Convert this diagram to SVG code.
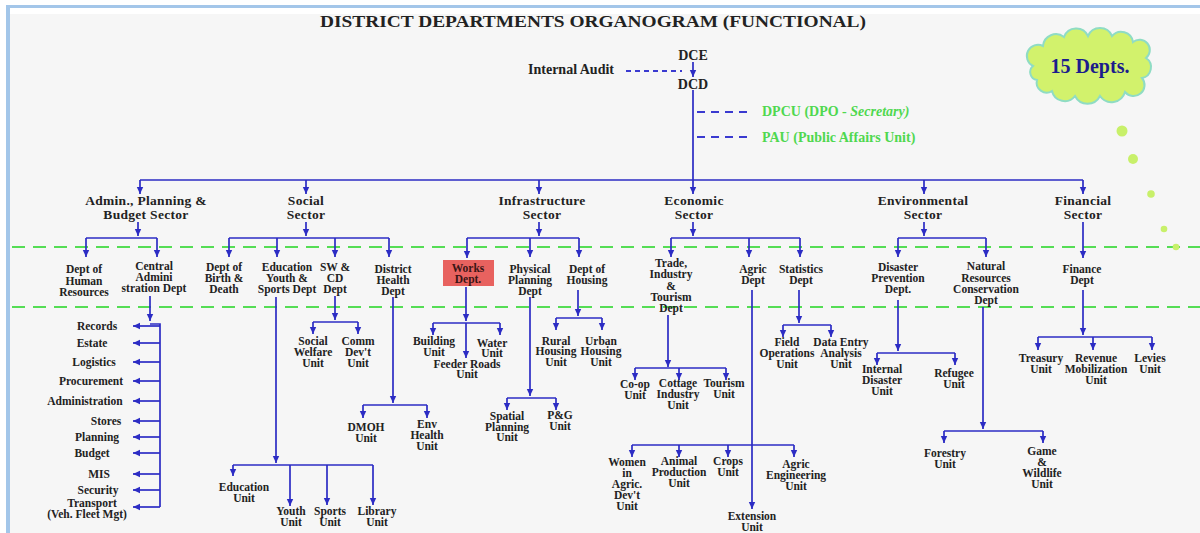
<svg xmlns="http://www.w3.org/2000/svg" width="1200" height="533" viewBox="0 0 1200 533">
<style>
.t{font-family:"Liberation Serif","Times New Roman",serif;font-weight:bold;fill:#222;font-size:11.5px;text-anchor:middle}
.s{font-size:13.5px;letter-spacing:0.3px}
.h{font-size:14px}
.g{fill:#4fd84f;font-size:14px;text-anchor:start}
.l{fill:none;stroke:#2c2cc4;stroke-width:1.7}
.a{marker-end:url(#ah)}
.gd{fill:none;stroke:#55dd55;stroke-width:2;stroke-dasharray:13 8}
.bd{fill:none;stroke:#3a3ad0;stroke-width:1.8}
.dot{fill:#c8f06a}
</style>
<defs>
<marker id="ah" markerWidth="8" markerHeight="8" refX="7" refY="4" orient="auto" markerUnits="userSpaceOnUse"><path d="M0,0.8 L7,4 L0,7.2 z" fill="#2c2cc4"/></marker>
</defs>
<rect x="0" y="0" width="1200" height="533" fill="#ffffff"/>
<rect x="10" y="14" width="1190" height="519" fill="#f6f6f6"/>
<line x1="8" y1="5" x2="8" y2="533" stroke="#a3c6e9" stroke-width="4"/>
<line x1="6" y1="6.5" x2="1200" y2="6.5" stroke="#a3c6e9" stroke-width="3"/>
<path class="gd" d="M12,247 H1200 M12,307 H1200"/>

<g id="title"><text class="t" x="593" y="27" style="font-size:17.5px" textLength="546" lengthAdjust="spacingAndGlyphs">DISTRICT DEPARTMENTS ORGANOGRAM (FUNCTIONAL)</text></g>

<g id="cloud">
<path d="M1033,66 A11,11 0 0 1 1043,46 A13,13 0 0 1 1064,37 A13,13 0 0 1 1088,36 A13,13 0 0 1 1112,36 A12,12 0 0 1 1133,42 A10,10 0 0 1 1146,58 A11,11 0 0 1 1142,78 A11,11 0 0 1 1125,92 A14,14 0 0 1 1100,96 A14,14 0 0 1 1075,96 A13,13 0 0 1 1052,91 A10,10 0 0 1 1037,80 A8,8 0 0 1 1033,66 Z" fill="#d2f26c" stroke="#8fdcc4" stroke-width="2"/>
<text class="t" x="1090" y="73" style="font-size:20px;fill:#1c1c8c">15 Depts.</text>
<circle class="dot" cx="1122" cy="131" r="5.5"/>
<circle class="dot" cx="1133" cy="159" r="5"/>
<circle class="dot" cx="1151" cy="194" r="3.8"/>
<circle class="dot" cx="1164" cy="229" r="3.3"/>
<circle class="dot" cx="1176" cy="247" r="3.3"/>
</g>

<g id="connectors">
<path class="l a" d="M693,62 V77"/>
<path class="bd" d="M626,71 H682" stroke-dasharray="5 4"/>
<path class="l" d="M693,90 V180 M140,180 H1083"/>
<path class="bd" d="M697,112 H752 M697,137 H752" stroke-dasharray="8 6"/>
<path class="l a" d="M140,180 V194"/><path class="l a" d="M306,180 V194"/><path class="l a" d="M539,180 V194"/>
<path class="l a" d="M693,180 V194"/><path class="l a" d="M924,180 V194"/><path class="l a" d="M1083,180 V194"/>

<path class="l a" d="M138,222 V236"/><path class="l" d="M86,238 H157"/>
<path class="l a" d="M86,238 V257"/><path class="l a" d="M157,238 V257"/>
<path class="l a" d="M306,222 V236"/><path class="l" d="M229,238 H389"/>
<path class="l a" d="M229,238 V257"/><path class="l a" d="M277,238 V257"/><path class="l a" d="M335,238 V257"/><path class="l a" d="M389,238 V257"/>
<path class="l a" d="M539,222 V236"/><path class="l" d="M467,238 H579"/>
<path class="l a" d="M467,238 V258"/><path class="l a" d="M530,238 V257"/><path class="l a" d="M579,238 V257"/>
<path class="l a" d="M693,222 V236"/><path class="l" d="M671,238 H800"/>
<path class="l a" d="M671,238 V257"/><path class="l a" d="M749,238 V257"/><path class="l a" d="M800,238 V257"/>
<path class="l a" d="M924,222 V236"/><path class="l" d="M898,238 H986"/>
<path class="l a" d="M898,238 V257"/><path class="l a" d="M986,238 V257"/>
<path class="l a" d="M1083,222 V258"/>

<path class="l a" d="M150,296 V321"/><path class="l" d="M150,324 H160 V507"/>
<path class="l a" d="M160,326 H133"/><path class="l a" d="M160,343 H133"/><path class="l a" d="M160,362 H133"/>
<path class="l a" d="M160,381 H133"/><path class="l a" d="M160,401 H133"/><path class="l a" d="M160,421 H133"/>
<path class="l a" d="M160,437 H133"/><path class="l a" d="M160,453 H133"/><path class="l a" d="M160,474 H133"/>
<path class="l a" d="M160,490 H133"/><path class="l a" d="M160,507 H133"/>

<path class="l a" d="M276,297 V463"/><path class="l" d="M233,465 H373"/>
<path class="l a" d="M233,465 V476"/><path class="l a" d="M290,465 V506"/><path class="l a" d="M327,465 V505"/><path class="l a" d="M373,465 V505"/>
<path class="l a" d="M335,296 V320"/><path class="l" d="M313,322 H358"/>
<path class="l a" d="M313,322 V334"/><path class="l a" d="M358,322 V334"/>
<path class="l a" d="M393,297 V403"/><path class="l" d="M363,405 H427"/>
<path class="l a" d="M363,405 V418"/><path class="l a" d="M427,405 V418"/>

<path class="l a" d="M466,287 V321"/><path class="l" d="M433,323 H500"/>
<path class="l a" d="M433,323 V335"/><path class="l a" d="M500,323 V335"/><path class="l a" d="M466,323 V358"/>
<path class="l a" d="M530,297 V396"/><path class="l" d="M507,398 H556"/>
<path class="l a" d="M507,398 V410"/><path class="l a" d="M556,398 V410"/>
<path class="l a" d="M578,290 V316"/><path class="l" d="M556,318 H602"/>
<path class="l a" d="M556,318 V330"/><path class="l a" d="M602,318 V330"/>

<path class="l a" d="M668,315 V367"/><path class="l" d="M635,368 H726"/>
<path class="l a" d="M635,368 V380"/><path class="l a" d="M679,368 V380"/><path class="l a" d="M726,368 V380"/>
<path class="l a" d="M752,290 V509"/><path class="l" d="M632,445 H794"/>
<path class="l a" d="M632,445 V457"/><path class="l a" d="M679,445 V457"/><path class="l a" d="M728,445 V457"/><path class="l a" d="M794,445 V457"/>
<path class="l a" d="M799,290 V323"/><path class="l" d="M783,325 H831"/>
<path class="l a" d="M783,325 V337"/><path class="l a" d="M831,325 V337"/>

<path class="l a" d="M898,300 V351"/><path class="l" d="M877,353 H955"/>
<path class="l a" d="M877,353 V365"/><path class="l a" d="M955,353 V365"/>
<path class="l a" d="M983,307 V429"/><path class="l" d="M944,431 H1043"/>
<path class="l a" d="M944,431 V443"/><path class="l a" d="M1043,431 V443"/>
<path class="l a" d="M1083,290 V335"/><path class="l" d="M1038,337 H1152"/>
<path class="l a" d="M1038,337 V350"/><path class="l a" d="M1093,337 V350"/><path class="l a" d="M1152,337 V350"/>
</g>

<g id="dce"><text class="t h" x="693" y="60">DCE</text></g>
<g id="dcd"><text class="t h" x="693" y="89">DCD</text></g>
<g id="audit"><text class="t h" x="571" y="74">Internal Audit</text></g>
<g id="dpcu"><text class="t g" x="762" y="116">DPCU (DPO - <tspan font-style="italic">Secretary)</tspan></text></g>
<g id="pau"><text class="t g" x="762" y="142">PAU (Public Affairs Unit)</text></g>

<g id="sec-admin"><text class="t s" x="146" y="205">Admin.,  Planning &amp;</text><text class="t s" x="146" y="218.5">Budget Sector</text></g>
<g id="sec-social"><text class="t s" x="306" y="205">Social</text><text class="t s" x="306" y="218.5">Sector</text></g>
<g id="sec-infra"><text class="t s" x="542" y="205">Infrastructure</text><text class="t s" x="542" y="218.5">Sector</text></g>
<g id="sec-econ"><text class="t s" x="694" y="205">Economic</text><text class="t s" x="694" y="218.5">Sector</text></g>
<g id="sec-env"><text class="t s" x="923" y="205">Environmental</text><text class="t s" x="923" y="218.5">Sector</text></g>
<g id="sec-fin"><text class="t s" x="1083" y="205">Financial</text><text class="t s" x="1083" y="218.5">Sector</text></g>

<g id="d-hr"><text class="t" x="84" y="273">Dept of</text><text class="t" x="84" y="285">Human</text><text class="t" x="84" y="296">Resources</text></g>
<g id="d-central"><text class="t" x="154" y="270">Central</text><text class="t" x="154" y="281">Admini</text><text class="t" x="154" y="292">stration Dept</text></g>
<g id="d-birth"><text class="t" x="224" y="271">Dept of</text><text class="t" x="224" y="282">Birth &amp;</text><text class="t" x="224" y="293">Death</text></g>
<g id="d-edu"><text class="t" x="287" y="271">Education</text><text class="t" x="287" y="282">Youth &amp;</text><text class="t" x="287" y="293">Sports Dept</text></g>
<g id="d-sw"><text class="t" x="335" y="271">SW &amp;</text><text class="t" x="335" y="282">CD</text><text class="t" x="335" y="293">Dept</text></g>
<g id="d-health"><text class="t" x="393" y="273">District</text><text class="t" x="393" y="284">Health</text><text class="t" x="393" y="295">Dept</text></g>
<g id="d-works"><rect x="443" y="260" width="51" height="26" fill="#e8625f"/><text class="t" x="468" y="272" style="fill:#3a1515">Works</text><text class="t" x="468" y="283" style="fill:#3a1515">Dept.</text></g>
<g id="d-phys"><text class="t" x="530" y="273">Physical</text><text class="t" x="530" y="284">Planning</text><text class="t" x="530" y="295">Dept</text></g>
<g id="d-housing"><text class="t" x="587" y="273">Dept of</text><text class="t" x="587" y="284">Housing</text></g>
<g id="d-trade"><text class="t" x="671" y="267">Trade,</text><text class="t" x="671" y="278">Industry</text><text class="t" x="671" y="290">&amp;</text><text class="t" x="671" y="301">Tourism</text><text class="t" x="671" y="312">Dept</text></g>
<g id="d-agric"><text class="t" x="753" y="273">Agric</text><text class="t" x="753" y="284">Dept</text></g>
<g id="d-stats"><text class="t" x="801" y="273">Statistics</text><text class="t" x="801" y="284">Dept</text></g>
<g id="d-disaster"><text class="t" x="898" y="271">Disaster</text><text class="t" x="898" y="282">Prevention</text><text class="t" x="898" y="293">Dept.</text></g>
<g id="d-natural"><text class="t" x="986" y="270">Natural</text><text class="t" x="986" y="282">Resources</text><text class="t" x="986" y="293">Conservation</text><text class="t" x="986" y="304">Dept</text></g>
<g id="d-finance"><text class="t" x="1082" y="273">Finance</text><text class="t" x="1082" y="284">Dept</text></g>

<g id="u-central">
<text class="t" x="97" y="330">Records</text>
<text class="t" x="92" y="347">Estate</text>
<text class="t" x="94" y="366">Logistics</text>
<text class="t" x="91" y="385">Procurement</text>
<text class="t" x="85" y="405">Administration</text>
<text class="t" x="106" y="425">Stores</text>
<text class="t" x="97" y="441">Planning</text>
<text class="t" x="92" y="457">Budget</text>
<text class="t" x="99" y="478">MIS</text>
<text class="t" x="98" y="494">Security</text>
<text class="t" x="92" y="507">Transport</text>
<text class="t" x="87" y="518">(Veh. Fleet Mgt)</text>
</g>
<g id="u-education"><text class="t" x="244" y="491">Education</text><text class="t" x="244" y="502">Unit</text></g>
<g id="u-youth"><text class="t" x="291" y="515">Youth</text><text class="t" x="291" y="526">Unit</text></g>
<g id="u-sports"><text class="t" x="330" y="515">Sports</text><text class="t" x="330" y="526">Unit</text></g>
<g id="u-library"><text class="t" x="377" y="515">Library</text><text class="t" x="377" y="526">Unit</text></g>
<g id="u-welfare"><text class="t" x="313" y="345">Social</text><text class="t" x="313" y="356">Welfare</text><text class="t" x="313" y="367">Unit</text></g>
<g id="u-comm"><text class="t" x="358" y="345">Comm</text><text class="t" x="358" y="356">Dev't</text><text class="t" x="358" y="367">Unit</text></g>
<g id="u-dmoh"><text class="t" x="366" y="431">DMOH</text><text class="t" x="366" y="442">Unit</text></g>
<g id="u-envhealth"><text class="t" x="427" y="428">Env</text><text class="t" x="427" y="439">Health</text><text class="t" x="427" y="450">Unit</text></g>
<g id="u-building"><text class="t" x="434" y="345">Building</text><text class="t" x="434" y="356">Unit</text></g>
<g id="u-water"><text class="t" x="492" y="347">Water</text><text class="t" x="492" y="357">Unit</text></g>
<g id="u-feeder"><text class="t" x="467" y="368">Feeder Roads</text><text class="t" x="467" y="378">Unit</text></g>
<g id="u-spatial"><text class="t" x="507" y="420">Spatial</text><text class="t" x="507" y="431">Planning</text><text class="t" x="507" y="441">Unit</text></g>
<g id="u-pg"><text class="t" x="560" y="419">P&amp;G</text><text class="t" x="560" y="430">Unit</text></g>
<g id="u-rural"><text class="t" x="556" y="345">Rural</text><text class="t" x="556" y="355">Housing</text><text class="t" x="556" y="366">Unit</text></g>
<g id="u-urban"><text class="t" x="601" y="345">Urban</text><text class="t" x="601" y="355">Housing</text><text class="t" x="601" y="366">Unit</text></g>
<g id="u-coop"><text class="t" x="635" y="388">Co-op</text><text class="t" x="635" y="399">Unit</text></g>
<g id="u-cottage"><text class="t" x="678" y="387">Cottage</text><text class="t" x="678" y="398">Industry</text><text class="t" x="678" y="409">Unit</text></g>
<g id="u-tourism"><text class="t" x="724" y="387">Tourism</text><text class="t" x="724" y="398">Unit</text></g>
<g id="u-women"><text class="t" x="627" y="466">Women</text><text class="t" x="627" y="477">in</text><text class="t" x="627" y="488">Agric.</text><text class="t" x="627" y="499">Dev't</text><text class="t" x="627" y="510">Unit</text></g>
<g id="u-animal"><text class="t" x="679" y="465">Animal</text><text class="t" x="679" y="476">Production</text><text class="t" x="679" y="487">Unit</text></g>
<g id="u-crops"><text class="t" x="728" y="465">Crops</text><text class="t" x="728" y="476">Unit</text></g>
<g id="u-agreng"><text class="t" x="796" y="468">Agric</text><text class="t" x="796" y="479">Engineering</text><text class="t" x="796" y="490">Unit</text></g>
<g id="u-extension"><text class="t" x="752" y="520">Extension</text><text class="t" x="752" y="531">Unit</text></g>
<g id="u-field"><text class="t" x="787" y="346">Field</text><text class="t" x="787" y="357">Operations</text><text class="t" x="787" y="368">Unit</text></g>
<g id="u-data"><text class="t" x="841" y="346">Data Entry</text><text class="t" x="841" y="357">Analysis</text><text class="t" x="841" y="368">Unit</text></g>
<g id="u-internal"><text class="t" x="882" y="373">Internal</text><text class="t" x="882" y="384">Disaster</text><text class="t" x="882" y="395">Unit</text></g>
<g id="u-refugee"><text class="t" x="954" y="377">Refugee</text><text class="t" x="954" y="388">Unit</text></g>
<g id="u-forestry"><text class="t" x="945" y="457">Forestry</text><text class="t" x="945" y="468">Unit</text></g>
<g id="u-game"><text class="t" x="1042" y="455">Game</text><text class="t" x="1042" y="466">&amp;</text><text class="t" x="1042" y="477">Wildlife</text><text class="t" x="1042" y="488">Unit</text></g>
<g id="u-treasury"><text class="t" x="1041" y="362">Treasury</text><text class="t" x="1041" y="373">Unit</text></g>
<g id="u-revenue"><text class="t" x="1096" y="362">Revenue</text><text class="t" x="1096" y="373">Mobilization</text><text class="t" x="1096" y="384">Unit</text></g>
<g id="u-levies"><text class="t" x="1150" y="362">Levies</text><text class="t" x="1150" y="373">Unit</text></g>
</svg>
